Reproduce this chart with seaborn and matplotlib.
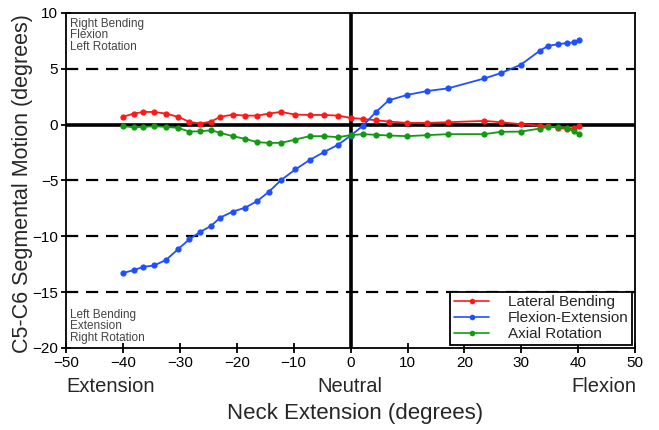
import numpy as np
import pandas as pd
import matplotlib
matplotlib.use("Agg")
import matplotlib.pyplot as plt
import seaborn as sns

# ---- data ----
angles = [-40, -38.1, -36.4, -34.5, -32.4, -30.3, -28.3, -26.4, -24.5, -22.9,
          -20.7, -18.5, -16.4, -14.4, -12.2, -9.7, -7.2, -4.7, -2.2, 0,
          2.2, 4.4, 6.7, 9.9, 13.4, 17.1, 23.5, 26.4, 29.9, 33.2,
          34.7, 36.5, 38.0, 39.2, 40.2]
lateral_bending = [0.69, 0.98, 1.13, 1.13, 0.98, 0.69, 0.24, 0.09, 0.27, 0.69,
                   0.89, 0.80, 0.80, 0.98, 1.13, 0.89, 0.86, 0.86, 0.80, 0.60,
                   0.50, 0.39, 0.27, 0.15, 0.15, 0.21, 0.33, 0.21, 0.03, -0.09,
                   -0.15, -0.30, -0.39, -0.33, -0.15]
flexion_extension = [-13.30, -13.04, -12.74, -12.62, -12.12, -11.16, -10.27, -9.61, -9.08, -8.33,
                     -7.80, -7.44, -6.85, -6.04, -4.97, -4.02, -3.18, -2.47, -1.81, -1.00,
                     -0.09, 1.10, 2.17, 2.65, 3.00, 3.24, 4.13, 4.61, 5.36, 6.60,
                     7.05, 7.20, 7.30, 7.35, 7.60]
axial_rotation = [-0.15, -0.24, -0.21, -0.15, -0.21, -0.30, -0.63, -0.60, -0.51, -0.74,
                  -1.04, -1.28, -1.58, -1.64, -1.64, -1.34, -1.04, -1.04, -1.13, -0.95,
                  -0.86, -0.92, -0.98, -1.04, -0.95, -0.86, -0.86, -0.65, -0.63, -0.36,
                  -0.21, -0.21, -0.30, -0.60, -0.89]
series_names = ["Lateral Bending", "Flexion-Extension", "Axial Rotation"]
series_colors = ["#ff1a1a", "#1f4fff", "#139a13"]
x_ticks = [-50, -40, -30, -20, -10, 0, 10, 20, 30, 40, 50]
y_ticks = [-20, -15, -10, -5, 0, 5, 10]
dashed_levels = [5, -5, -10, -15]

df = pd.DataFrame({
    "angle": angles * 3,
    "motion": lateral_bending + flexion_extension + axial_rotation,
    "series": sum([[n] * len(angles) for n in series_names], []),
})

sns.set_style("white")
plt.rcParams["font.family"] = ["Liberation Sans", "DejaVu Sans"]

fig = plt.figure(figsize=(6.59, 4.30), dpi=100)
ax = fig.add_axes([0.100, 0.191, 0.864, 0.779])

for lvl in dashed_levels:
    ax.axhline(lvl, color="black", lw=1.6, ls=(0, (5.5, 3.5)), zorder=1)
ax.axhline(0, color="black", lw=2.6, zorder=1)
ax.axvline(0, color="black", lw=2.6, zorder=1)

sns.lineplot(data=df, x="angle", y="motion", hue="series", hue_order=series_names,
             palette=series_colors, marker="o", markersize=4.5, markeredgewidth=0,
             linewidth=1.3, sort=False, estimator=None, ax=ax, zorder=3)

ax.set_xlim(-50, 50)
ax.set_ylim(-20, 10)
ax.set_xticks(x_ticks)
ax.set_yticks(y_ticks)
ax.tick_params(axis="both", direction="inout", length=7, width=1.3, labelsize=11,
               colors="black", pad=2, bottom=True, left=True)
for s in ax.spines.values():
    s.set_color("black")
    s.set_linewidth(1.3)
ax.set_xlabel("")
ax.set_ylabel("C5-C6 Segmental Motion (degrees)", fontsize=15.5)
ax.yaxis.set_label_coords(-0.057, 0.49)

fig.text(66 / 659, 1 - 386 / 430, "Extension", fontsize=14.5, ha="left", va="center")
fig.text(350 / 659, 1 - 386 / 430, "Neutral", fontsize=14.5, ha="center", va="center")
fig.text(636 / 659, 1 - 386 / 430, "Flexion", fontsize=14.5, ha="right", va="center")
fig.text(355 / 659, 1 - 414 / 430, "Neck Extension (degrees)", fontsize=16,
         ha="center", va="center")

ax.text(0.008, 0.986, "Right Bending\nFlexion\nLeft Rotation", transform=ax.transAxes,
        fontsize=8.5, color="#444444", ha="left", va="top", linespacing=0.95)
ax.text(0.008, 0.012, "Left Bending\nExtension\nRight Rotation", transform=ax.transAxes,
        fontsize=8.5, color="#444444", ha="left", va="bottom", linespacing=0.95)

leg = ax.legend(loc="lower right", fontsize=11, frameon=True, fancybox=False,
                edgecolor="black", framealpha=1, borderpad=0.25, labelspacing=0.12,
                handlelength=2.3, handletextpad=1.2, borderaxespad=0.2)
leg.get_frame().set_linewidth(1.3)
for h in leg.legend_handles:
    h.set_markersize(4)
    h.set_linewidth(1.2)

fig.savefig("out.png", dpi=100)
